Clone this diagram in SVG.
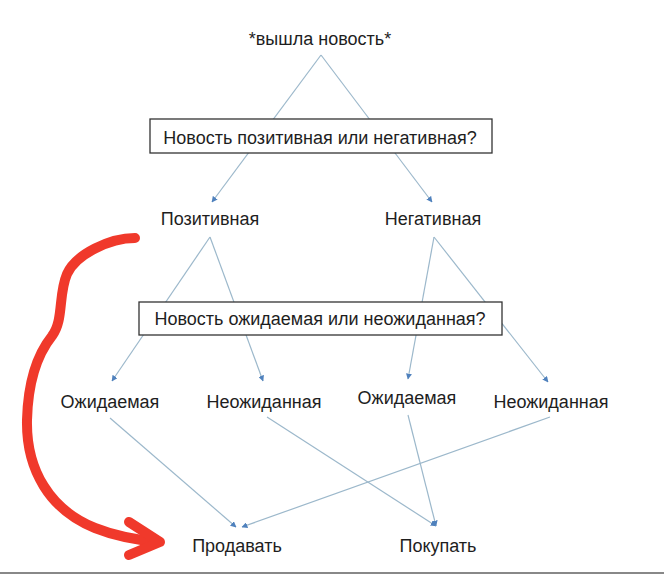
<svg xmlns="http://www.w3.org/2000/svg" width="664" height="575" viewBox="0 0 664 575">
<defs>
<marker id="ah" viewBox="0 0 10 10" refX="9" refY="5" markerWidth="6" markerHeight="6" markerUnits="userSpaceOnUse" orient="auto">
<path d="M0,0 L10,5 L0,10 z" fill="#4f81bd"/>
</marker>
<style>
text{font-family:"Liberation Sans","Noto Sans",sans-serif;font-size:18px;fill:#1e1e1e;text-anchor:middle}
.c{stroke:#9cb8cb;stroke-width:1.2;fill:none;marker-end:url(#ah)}
.box{fill:#fff;stroke:#333;stroke-width:1.3}
</style>
</defs>
<rect width="664" height="575" fill="#fff"/>
<g id="connectors">
<line class="c" x1="321" y1="55" x2="212" y2="202"/>
<line class="c" x1="321" y1="55" x2="432" y2="202"/>
<line class="c" x1="210" y1="237" x2="112" y2="381"/>
<line class="c" x1="210" y1="237" x2="263" y2="381"/>
<line class="c" x1="434" y1="237" x2="408" y2="379"/>
<line class="c" x1="434" y1="237" x2="548" y2="382"/>
<line class="c" x1="110" y1="418" x2="236" y2="527"/>
<line class="c" x1="550" y1="417" x2="242" y2="527"/>
<line class="c" x1="267" y1="417" x2="436" y2="526"/>
<line class="c" x1="408" y1="415" x2="436" y2="526"/>
</g>
<g id="n-news"><text x="320" y="45">*вышла новость*</text></g>
<g id="q1"><rect class="box" x="150" y="119" width="342" height="34"/><text x="320" y="144">Новость позитивная или негативная?</text></g>
<g id="n-pos"><text x="210" y="225">Позитивная</text></g>
<g id="n-neg"><text x="433" y="225">Негативная</text></g>
<g id="q2"><rect class="box" x="139" y="302" width="363" height="33"/><text x="320" y="325">Новость ожидаемая или неожиданная?</text></g>
<g id="n-pos-exp"><text x="110" y="408">Ожидаемая</text></g>
<g id="n-pos-unexp"><text x="264" y="408">Неожиданная</text></g>
<g id="n-neg-exp"><text x="407" y="404">Ожидаемая</text></g>
<g id="n-neg-unexp"><text x="551" y="408">Неожиданная</text></g>
<g id="n-sell"><text x="237" y="552">Продавать</text></g>
<g id="n-buy"><text x="438" y="552">Покупать</text></g>
<g id="red-arrow" fill="none" stroke="#f0392b" stroke-width="10" stroke-linecap="round" stroke-linejoin="round">
<path d="M135,238 C110,238 76,254 67,274 C58,295 64,320 52,336 C36,356 28,382 27,420 C26,470 50,510 95,528 C115,536 138,540 158,542"/>
<path d="M129,522 L160,542 L129,555"/>
</g>
<line x1="0" y1="573" x2="664" y2="573" stroke="#888" stroke-width="2"/>
</svg>
